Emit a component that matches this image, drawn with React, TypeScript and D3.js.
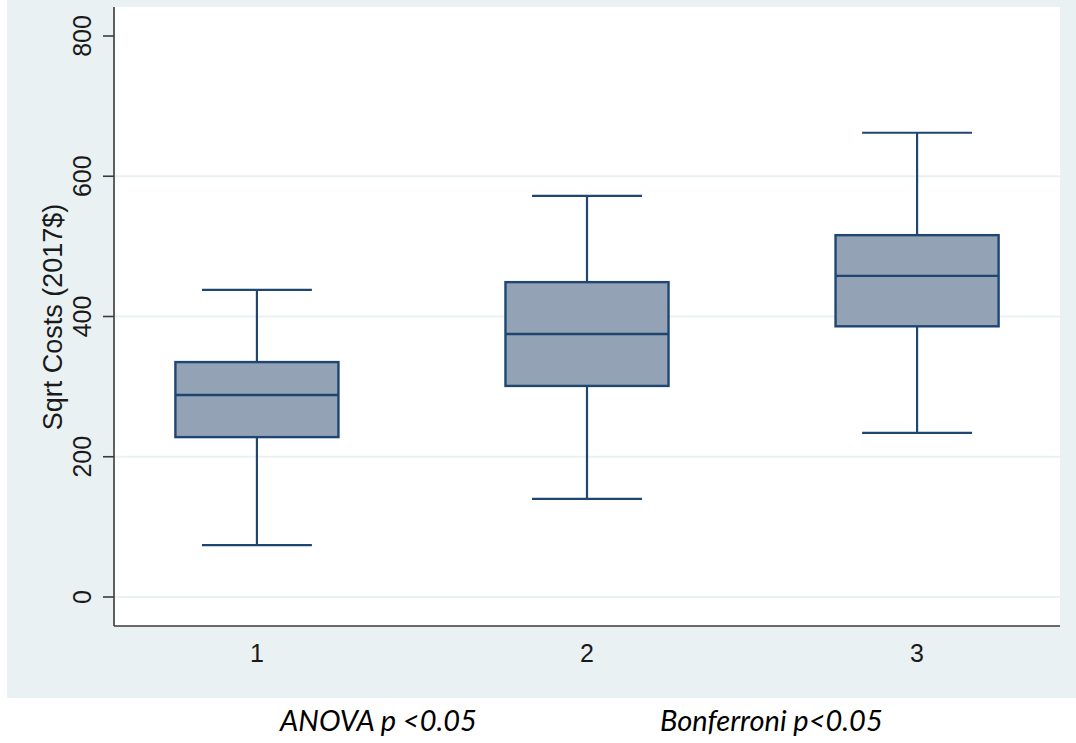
import React from "react";
import * as d3 from "d3";

const categories = ["1", "2", "3"];
const lowerWhisker = [74, 140, 234];
const q1 = [228, 301, 386];
const median = [288, 375, 458];
const q3 = [335, 449, 516];
const upperWhisker = [438, 572, 662];
const yTicks = [0, 200, 400, 600, 800];
const gridTicks = [0, 200, 400, 600];
const yTitle = "Sqrt Costs (2017$)";
const notes = ["ANOVA p <0.05", "Bonferroni p<0.05"];

const W = 1076;
const H = 743;
const plotL = 114;
const plotR = 1060;
const plotT = 7;
const plotB = 626;

export default function App() {
  const x = d3.scalePoint<string>().domain(categories).range([plotL, plotR]).padding(0.433);
  const y = d3.scaleLinear().domain([0, 800]).range([597, 36]);
  const step = x.step();
  const boxW = step * 0.494;
  const capW = step * 0.333;
  const stroke = "#1f4670";
  const fill = "#93a3b5";
  const axisCol = "#3a3a3a";
  const gridCol = "#eaf1f3";

  return (
    <svg width={W} height={H} style={{ position: "absolute", left: 0, top: 0, background: "#fff" }}>
      <rect x={7} y={0} width={W - 7} height={698} fill="#eaf1f3" />
      <rect x={plotL} y={plotT} width={plotR - plotL} height={plotB - plotT} fill="#ffffff" />
      {gridTicks.map((t) => (
        <line key={"g" + t} x1={plotL} x2={plotR} y1={y(t)} y2={y(t)} stroke={gridCol} strokeWidth={2} />
      ))}
      <line x1={plotL} x2={plotL} y1={plotT} y2={plotB} stroke={axisCol} strokeWidth={1.6} />
      <line x1={plotL} x2={plotR} y1={plotB} y2={plotB} stroke={axisCol} strokeWidth={1.6} />
      {yTicks.map((t) => (
        <g key={"t" + t}>
          <line x1={plotL - 11} x2={plotL} y1={y(t)} y2={y(t)} stroke={axisCol} strokeWidth={1.6} />
          <text
            transform={`translate(91,${y(t)}) rotate(-90)`}
            textAnchor="middle"
            fontFamily="Liberation Sans, Arial, sans-serif"
            fontSize={25}
            fill="#1a1a1a"
          >
            {t}
          </text>
        </g>
      ))}
      <text
        transform={`translate(62,317) rotate(-90)`}
        textAnchor="middle"
        fontFamily="Liberation Sans, Arial, sans-serif"
        fontSize={27}
        fill="#1a1a1a"
      >
        {yTitle}
      </text>
      {categories.map((c) => (
        <text
          key={"xl" + c}
          x={x(c)}
          y={662}
          textAnchor="middle"
          fontFamily="Liberation Sans, Arial, sans-serif"
          fontSize={25}
          fill="#1a1a1a"
        >
          {c}
        </text>
      ))}
      {categories.map((c, i) => {
        const cx = x(c) as number;
        return (
          <g key={"b" + c}>
            <line x1={cx} x2={cx} y1={y(upperWhisker[i])} y2={y(q3[i])} stroke={stroke} strokeWidth={2.2} />
            <line x1={cx} x2={cx} y1={y(q1[i])} y2={y(lowerWhisker[i])} stroke={stroke} strokeWidth={2.2} />
            <line x1={cx - capW / 2} x2={cx + capW / 2} y1={y(upperWhisker[i])} y2={y(upperWhisker[i])} stroke={stroke} strokeWidth={2.2} />
            <line x1={cx - capW / 2} x2={cx + capW / 2} y1={y(lowerWhisker[i])} y2={y(lowerWhisker[i])} stroke={stroke} strokeWidth={2.2} />
            <rect
              x={cx - boxW / 2}
              y={y(q3[i])}
              width={boxW}
              height={y(q1[i]) - y(q3[i])}
              fill={fill}
              stroke={stroke}
              strokeWidth={2.4}
            />
            <line x1={cx - boxW / 2} x2={cx + boxW / 2} y1={y(median[i])} y2={y(median[i])} stroke={stroke} strokeWidth={2.4} />
          </g>
        );
      })}
      <text x={280} y={731} fontFamily="Lato, sans-serif" fontStyle="italic" fontSize={29} fill="#000">
        {notes[0]}
      </text>
      <text x={660} y={731} fontFamily="Lato, sans-serif" fontStyle="italic" fontSize={29} fill="#000">
        {notes[1]}
      </text>
    </svg>
  );
}
